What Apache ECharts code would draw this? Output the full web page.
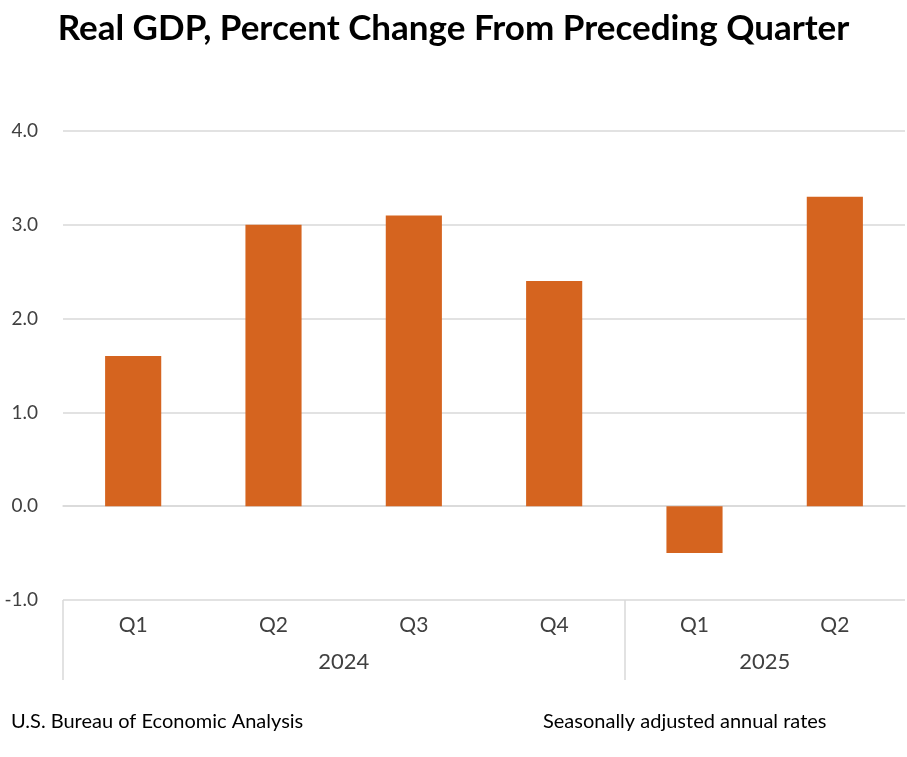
<!DOCTYPE html>
<html>
<head>
<meta charset="utf-8">
<script src="https://cdn.jsdelivr.net/npm/echarts@6/dist/echarts.min.js"></script>
<style>
  html, body { margin: 0; padding: 0; background: #fff; }
  #chart { width: 907px; height: 757px; }
</style>
</head>
<body>
<div id="chart"></div>
<script>
// quarters and real GDP % change (SAAR)
const quarters = ['Q1', 'Q2', 'Q3', 'Q4', 'Q1', 'Q2']
const gdpChange = [1.6, 3.0, 3.1, 2.4, -0.5, 3.3]
// year groups: label sits at the middle of its quarters, ticks mark the group edges
const yearLabels = ['2024', '2025']
const yearCenters = [2, 5]
const yearEdges = [0, 4]

const font = 'Lato, "Open Sans", sans-serif'
const chart = echarts.init(document.getElementById('chart'))

chart.setOption({
  backgroundColor: '#ffffff',
  textStyle: { fontFamily: font },
  title: [
    {
      text: 'Real GDP, Percent Change From Preceding Quarter',
      left: 'center',
      top: 6,
      textStyle: { fontSize: 35, fontWeight: 'bold', color: '#000000', fontFamily: font }
    },
    {
      text: 'U.S. Bureau of Economic Analysis',
      left: 6,
      top: 707,
      textStyle: { fontSize: 20, fontWeight: 'normal', color: '#000000', fontFamily: font }
    },
    {
      text: 'Seasonally adjusted annual rates',
      left: 538,
      top: 707,
      textStyle: { fontSize: 20, fontWeight: 'normal', color: '#000000', fontFamily: font }
    }
  ],
  grid: { left: 63, right: 2, top: 131, bottom: 157 },
  xAxis: [
    {
      type: 'category',
      data: quarters,
      position: 'bottom',
      axisLine: { show: true, lineStyle: { color: '#d9d9d9', width: 1.5 } },
      axisTick: { show: false },
      axisLabel: { margin: 15, fontSize: 21, color: '#404040' }
    },
    {
      type: 'value',
      min: 0,
      max: 6,
      position: 'bottom',
      axisLine: { show: false },
      splitLine: { show: false },
      axisTick: {
        show: true,
        customValues: yearEdges,
        length: 80,
        lineStyle: { color: '#d9d9d9', width: 1.5 }
      },
      axisLabel: {
        customValues: yearCenters,
        margin: 51,
        fontSize: 22,
        color: '#404040',
        formatter: function (v) {
          const i = yearCenters.indexOf(v)
          return i >= 0 ? yearLabels[i] : ''
        }
      }
    }
  ],
  yAxis: {
    type: 'value',
    min: -1,
    max: 4,
    interval: 1,
    axisLine: { show: false },
    axisTick: { show: false },
    splitLine: { lineStyle: { color: '#d9d9d9', width: 1.5 } },
    axisLabel: {
      margin: 25,
      fontSize: 19,
      color: '#404040',
      formatter: function (v) { return v.toFixed(1) }
    }
  },
  series: [
    {
      type: 'bar',
      xAxisIndex: 0,
      data: gdpChange,
      barWidth: '40%',
      itemStyle: { color: '#D5641F' },
      animation: false
    }
  ]
})
</script>
</body>
</html>
